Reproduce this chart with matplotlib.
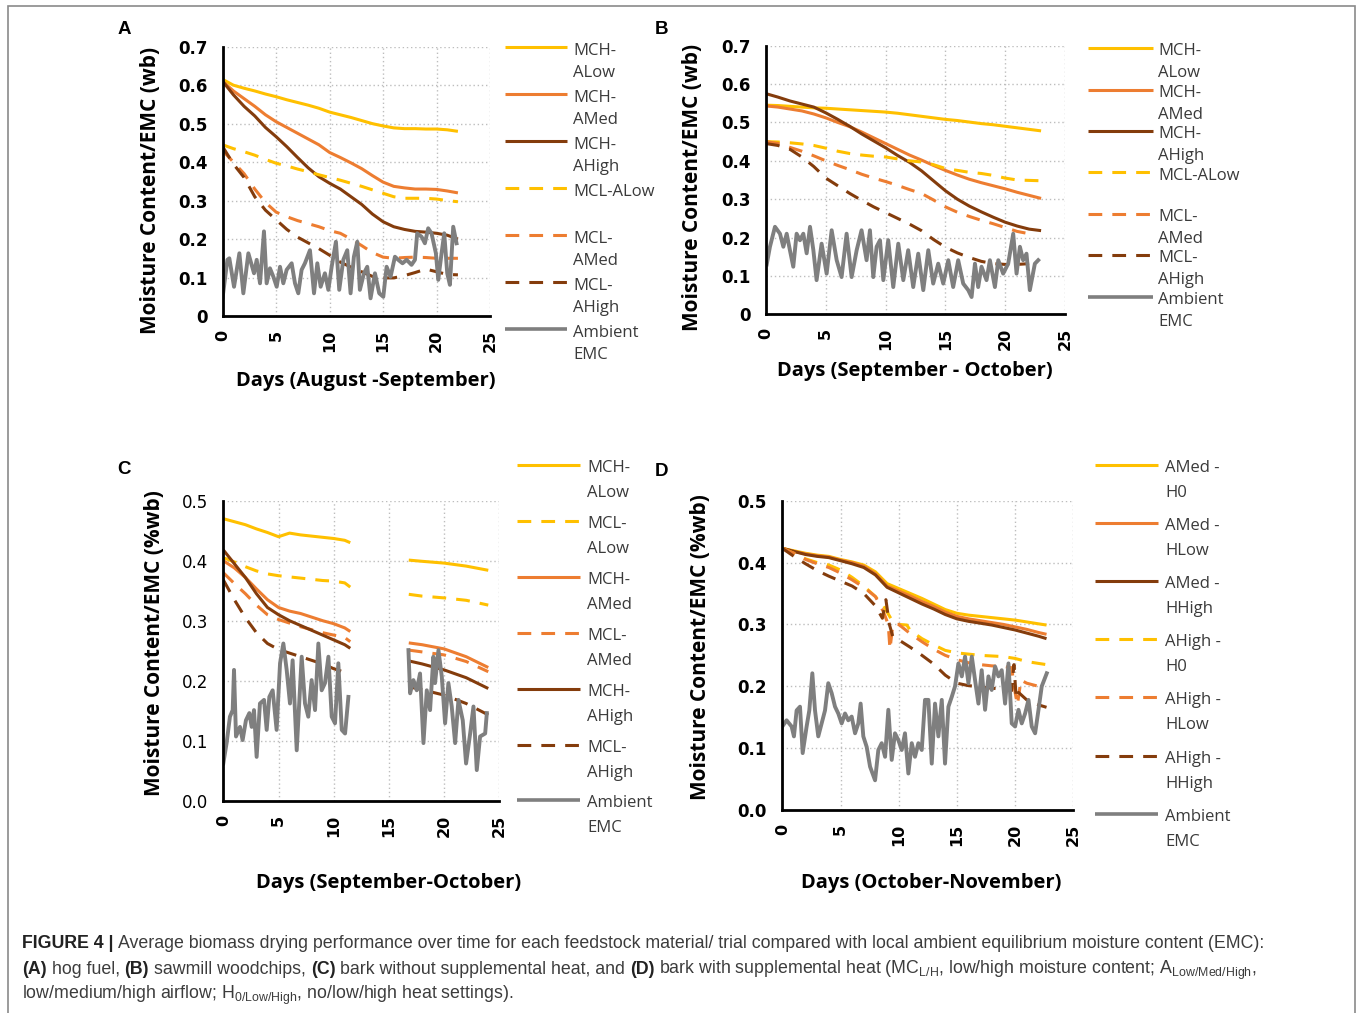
import numpy as np
import matplotlib
matplotlib.use("Agg")
import matplotlib.pyplot as plt
from matplotlib.lines import Line2D
from matplotlib.patches import Rectangle

plt.rcParams['mathtext.fontset'] = 'custom'
plt.rcParams['mathtext.rm'] = 'Liberation Sans'
plt.rcParams['mathtext.it'] = 'Liberation Sans:italic'
plt.rcParams['mathtext.bf'] = 'Liberation Sans:bold'

nan = np.nan

# ------------------------------------------------------------------ data
x_ticks = [0, 5, 10, 15, 20, 25]
y_ticks_AB = [0, 0.1, 0.2, 0.3, 0.4, 0.5, 0.6, 0.7]
y_ticklabels_AB = ["0", "0.1", "0.2", "0.3", "0.4", "0.5", "0.6", "0.7"]
y_ticks_CD = [0, 0.1, 0.2, 0.3, 0.4, 0.5]
y_ticklabels_CD = ["0.0", "0.1", "0.2", "0.3", "0.4", "0.5"]

# Panel A - hog fuel
A_days = list(range(23))
A_mch_alow = [0.615, 0.600, 0.592, 0.585, 0.577, 0.570, 0.562, 0.555, 0.548, 0.540, 0.530, 0.523,
              0.516, 0.508, 0.500, 0.494, 0.489, 0.487, 0.487, 0.486, 0.486, 0.484, 0.480]
A_mch_amed = [0.610, 0.585, 0.565, 0.545, 0.523, 0.505, 0.490, 0.475, 0.460, 0.445, 0.425, 0.412,
              0.398, 0.383, 0.365, 0.348, 0.337, 0.333, 0.330, 0.330, 0.329, 0.325, 0.320]
A_mch_ahigh = [0.610, 0.575, 0.545, 0.520, 0.490, 0.466, 0.440, 0.412, 0.385, 0.362, 0.345, 0.330,
               0.310, 0.290, 0.265, 0.245, 0.232, 0.225, 0.220, 0.218, 0.215, 0.210, 0.200]
A_mcl_alow = [0.445, 0.435, 0.427, 0.418, 0.407, 0.397, 0.390, 0.382, 0.375, 0.367, 0.360, 0.353,
              0.345, 0.337, 0.328, 0.319, 0.310, 0.306, 0.306, 0.306, 0.304, 0.300, 0.297]
A_mcl_amed = [0.430, 0.400, 0.370, 0.330, 0.295, 0.270, 0.258, 0.248, 0.240, 0.232, 0.222, 0.215,
              0.200, 0.183, 0.165, 0.153, 0.150, 0.152, 0.153, 0.152, 0.150, 0.150, 0.150]
A_mcl_ahigh = [0.440, 0.395, 0.360, 0.310, 0.275, 0.250, 0.225, 0.205, 0.190, 0.175, 0.158, 0.140,
               0.127, 0.115, 0.103, 0.099, 0.099, 0.105, 0.113, 0.122, 0.115, 0.108, 0.107]
A_amb_days = [0, 0.44, 0.62, 1.06, 1.56, 1.93, 2.40, 2.93, 3.18, 3.49, 3.86, 4.11, 4.42, 4.74, 5.05,
              5.36, 5.67, 5.98, 6.45, 6.76, 7.07, 7.38, 7.69, 8.16, 8.54, 8.85, 9.16, 9.56, 9.88,
              10.19, 10.59, 10.90, 11.28, 11.65, 11.96, 12.27, 12.59, 12.83, 13.21, 13.52, 13.83,
              14.24, 14.64, 15.02, 15.33, 15.70, 16.11, 16.42, 16.82, 17.20, 17.66, 17.98, 18.19,
              18.60, 18.91, 19.22, 19.53, 19.94, 20.16, 20.47, 20.72, 21.00, 21.25, 21.56, 21.87]
A_amb_vals = [0.050, 0.146, 0.150, 0.076, 0.163, 0.059, 0.163, 0.111, 0.146, 0.085, 0.220, 0.085,
              0.124, 0.102, 0.076, 0.128, 0.085, 0.120, 0.137, 0.085, 0.059, 0.120, 0.137, 0.171,
              0.059, 0.137, 0.076, 0.111, 0.068, 0.128, 0.193, 0.068, 0.146, 0.171, 0.059, 0.154,
              0.193, 0.068, 0.111, 0.128, 0.046, 0.111, 0.059, 0.050, 0.128, 0.102, 0.154, 0.146,
              0.137, 0.146, 0.133, 0.146, 0.215, 0.206, 0.189, 0.228, 0.215, 0.163, 0.094, 0.163,
              0.215, 0.111, 0.081, 0.232, 0.189]

# Panel B - sawmill woodchips
B_days = list(range(24))
B_mch_alow = [0.545, 0.544, 0.542, 0.540, 0.538, 0.537, 0.535, 0.533, 0.531, 0.529, 0.527, 0.524,
              0.520, 0.516, 0.512, 0.508, 0.505, 0.501, 0.497, 0.494, 0.490, 0.486, 0.482, 0.478]
B_mch_amed = [0.543, 0.540, 0.535, 0.530, 0.522, 0.512, 0.500, 0.489, 0.475, 0.460, 0.445, 0.430,
              0.415, 0.402, 0.388, 0.375, 0.363, 0.352, 0.343, 0.335, 0.327, 0.318, 0.310, 0.302]
B_mch_ahigh = [0.575, 0.566, 0.556, 0.548, 0.540, 0.525, 0.508, 0.490, 0.470, 0.452, 0.434, 0.414,
               0.396, 0.374, 0.348, 0.322, 0.300, 0.282, 0.267, 0.253, 0.240, 0.230, 0.222, 0.218]
B_mcl_alow = [0.450, 0.449, 0.447, 0.444, 0.440, 0.433, 0.425, 0.419, 0.415, 0.412, 0.410, 0.405,
              0.400, 0.397, 0.390, 0.380, 0.375, 0.370, 0.367, 0.362, 0.355, 0.350, 0.349, 0.348]
B_days_mcl = list(range(23))
B_mcl_amed = [0.450, 0.445, 0.435, 0.425, 0.413, 0.400, 0.388, 0.377, 0.365, 0.355, 0.346, 0.336,
              0.325, 0.315, 0.298, 0.280, 0.266, 0.255, 0.245, 0.236, 0.226, 0.216, 0.210]
B_mcl_ahigh = [0.445, 0.440, 0.430, 0.410, 0.385, 0.355, 0.335, 0.315, 0.297, 0.280, 0.265, 0.250,
               0.235, 0.218, 0.195, 0.175, 0.160, 0.148, 0.138, 0.132, 0.130, 0.130, 0.132]
B_amb_days = [0.06, 0.33, 0.75, 1.17, 1.45, 1.73, 2.00, 2.28, 2.56, 2.84, 3.12, 3.40, 3.68, 3.96,
              4.23, 4.65, 5.07, 5.49, 5.91, 6.32, 6.74, 7.16, 7.58, 7.99, 8.41, 8.69, 8.97, 9.25,
              9.53, 9.81, 10.22, 10.64, 11.06, 11.48, 11.89, 12.31, 12.73, 13.15, 13.57, 13.98,
              14.40, 14.82, 15.24, 15.65, 16.07, 16.49, 16.91, 17.19, 17.47, 17.74, 18.02, 18.44,
              18.72, 19.14, 19.42, 19.83, 20.25, 20.67, 20.95, 21.23, 21.50, 21.78, 22.06, 22.48,
              22.76]
B_amb_vals = [0.130, 0.176, 0.228, 0.210, 0.176, 0.210, 0.167, 0.124, 0.210, 0.193, 0.210, 0.159,
              0.228, 0.167, 0.089, 0.184, 0.106, 0.219, 0.141, 0.097, 0.210, 0.097, 0.167, 0.219,
              0.141, 0.219, 0.097, 0.176, 0.193, 0.089, 0.193, 0.071, 0.184, 0.089, 0.167, 0.071,
              0.158, 0.063, 0.167, 0.080, 0.132, 0.080, 0.141, 0.071, 0.141, 0.080, 0.063, 0.045,
              0.132, 0.071, 0.124, 0.089, 0.141, 0.071, 0.141, 0.106, 0.132, 0.210, 0.106, 0.176,
              0.141, 0.158, 0.063, 0.132, 0.141]

# Panel C - bark without supplemental heat (gap between trials)
C_days = [0, 1, 2, 3, 4, 5, 6, 7, 8, 9, 10, 11, 11.5, 14, 16.8, 18, 20, 22, 24]
C_mch_alow = [0.470, 0.465, 0.460, 0.453, 0.447, 0.440, 0.446, 0.443, 0.441, 0.439, 0.437, 0.434,
              0.430, nan, 0.401, 0.399, 0.396, 0.391, 0.384]
C_mcl_alow = [0.405, 0.398, 0.390, 0.383, 0.378, 0.375, 0.373, 0.371, 0.369, 0.367, 0.366, 0.363,
              0.356, nan, 0.344, 0.341, 0.338, 0.334, 0.326]
C_mch_amed = [0.400, 0.388, 0.372, 0.353, 0.335, 0.322, 0.316, 0.312, 0.306, 0.300, 0.295, 0.288,
              0.282, nan, 0.263, 0.260, 0.253, 0.240, 0.222]
C_mcl_amed = [0.380, 0.362, 0.345, 0.326, 0.310, 0.302, 0.296, 0.290, 0.285, 0.280, 0.276, 0.272,
              0.265, nan, 0.251, 0.248, 0.243, 0.232, 0.215]
C_mch_ahigh = [0.418, 0.395, 0.372, 0.345, 0.322, 0.310, 0.300, 0.292, 0.284, 0.276, 0.268, 0.260,
               0.254, nan, 0.233, 0.228, 0.218, 0.205, 0.187]
C_mcl_ahigh = [0.368, 0.335, 0.305, 0.280, 0.262, 0.252, 0.246, 0.240, 0.234, 0.228, 0.220, 0.214,
               nan, nan, 0.190, 0.185, 0.176, 0.162, 0.143]
C_amb_days = [0, 0.30, 0.60, 0.85, 0.97, 1.15, 1.51, 1.75, 2.05, 2.36, 2.57, 2.78, 3.02, 3.32, 3.69,
              3.93, 4.17, 4.47, 4.83, 5.14, 5.44, 5.74, 6.04, 6.28, 6.65, 7.10, 7.40, 7.70, 8.00,
              8.31, 8.61, 8.91, 9.21, 9.52, 9.82, 10.12, 10.42, 10.73, 11.03, 11.33, 14.0,
              16.77, 16.92, 17.22, 17.52, 17.82, 18.13, 18.43, 18.73, 19.03, 19.18, 19.49, 19.79,
              20.09, 20.39, 20.69, 21.00, 21.30, 21.69, 21.99, 22.36, 22.66, 22.96, 23.26, 23.72,
              23.87]
C_amb_vals = [0.062, 0.096, 0.140, 0.151, 0.218, 0.107, 0.123, 0.101, 0.134, 0.146, 0.123, 0.151,
              0.073, 0.162, 0.168, 0.118, 0.173, 0.184, 0.118, 0.229, 0.262, 0.218, 0.162, 0.234,
              0.084, 0.240, 0.162, 0.140, 0.201, 0.151, 0.262, 0.184, 0.196, 0.240, 0.140, 0.129,
              0.229, 0.118, 0.112, 0.173, nan,
              0.251, 0.179, 0.201, 0.184, 0.212, 0.096, 0.184, 0.151, 0.240, 0.196, 0.251, 0.207,
              0.129, 0.196, 0.157, 0.096, 0.168, 0.134, 0.062, 0.112, 0.157, 0.051, 0.107, 0.112,
              0.146]

# Panel D - bark with supplemental heat
D_days = [0, 1, 2, 3, 4, 5, 6, 7, 8, 9, 10, 11, 12, 13, 14, 15, 16, 17, 18, 19, 20, 21, 22, 22.7]
D_amed_h0 = [0.423, 0.419, 0.415, 0.412, 0.410, 0.405, 0.401, 0.396, 0.385, 0.366, 0.358, 0.350,
             0.342, 0.333, 0.324, 0.318, 0.315, 0.313, 0.311, 0.309, 0.307, 0.304, 0.301, 0.299]
D_amed_hlow = [0.423, 0.418, 0.414, 0.411, 0.409, 0.404, 0.400, 0.394, 0.382, 0.362, 0.354, 0.346,
               0.337, 0.329, 0.320, 0.313, 0.309, 0.306, 0.303, 0.300, 0.296, 0.292, 0.287, 0.284]
D_amed_hhigh = [0.423, 0.418, 0.413, 0.410, 0.408, 0.403, 0.398, 0.392, 0.380, 0.360, 0.351, 0.342,
                0.333, 0.325, 0.316, 0.309, 0.305, 0.302, 0.299, 0.295, 0.291, 0.286, 0.281, 0.277]
D_ahigh_h0_days = [0, 1, 2, 3, 4, 5, 6, 7, 8, 8.7, 9.5, 10, 10.7, 11, 12, 13, 14, 15, 16, 17, 18,
                   19, 20, 21, 22, 22.7]
D_ahigh_h0 = [0.423, 0.415, 0.406, 0.400, 0.396, 0.388, 0.376, 0.362, 0.345, 0.330, 0.304, 0.300,
              0.299, 0.290, 0.277, 0.267, 0.258, 0.254, 0.252, 0.250, 0.249, 0.248, 0.245, 0.240,
              0.237, 0.235]
D_ahigh_hlow_days = [0, 1, 2, 3, 4, 5, 6, 7, 8, 8.7, 9.1, 9.25, 9.5, 10, 11, 12, 13, 14, 15, 16,
                     17, 18, 19, 19.7, 20, 20.2, 20.5, 21, 22, 22.7]
D_ahigh_hlow = [0.423, 0.415, 0.405, 0.398, 0.392, 0.383, 0.372, 0.360, 0.345, 0.320, 0.300, 0.260,
                0.300, 0.300, 0.285, 0.272, 0.260, 0.250, 0.243, 0.238, 0.235, 0.233, 0.232, 0.230,
                0.190, 0.170, 0.210, 0.205, 0.200, 0.198]
D_ahigh_hhigh_days = [0, 1, 2, 3, 4, 5, 6, 7, 8, 8.6, 8.9, 9.2, 9.5, 10, 11, 12, 13, 14, 15, 16,
                      17, 18, 19, 19.7, 19.9, 20.1, 20.3, 21, 22, 22.7]
D_ahigh_hhigh = [0.423, 0.410, 0.398, 0.387, 0.378, 0.370, 0.362, 0.350, 0.330, 0.310, 0.340, 0.300,
                 0.280, 0.275, 0.263, 0.250, 0.236, 0.218, 0.205, 0.201, 0.199, 0.197, 0.195, 0.193,
                 0.235, 0.180, 0.190, 0.178, 0.170, 0.166]
D_amb_days = [0, 0.37, 0.80, 1.00, 1.23, 1.52, 1.75, 2.09, 2.32, 2.58, 2.81, 3.09, 3.38, 3.67, 3.95,
              4.24, 4.53, 4.81, 5.10, 5.39, 5.67, 5.96, 6.25, 6.53, 6.73, 6.96, 7.25, 7.54, 7.97,
              8.25, 8.54, 8.83, 9.11, 9.40, 9.68, 9.97, 10.26, 10.54, 10.83, 11.12, 11.40, 11.69,
              11.98, 12.26, 12.55, 12.84, 13.12, 13.41, 13.70, 13.98, 14.27, 14.56, 14.84, 15.13,
              15.42, 15.70, 15.99, 16.28, 16.56, 16.85, 17.13, 17.42, 17.71, 17.99, 18.28, 18.57,
              18.85, 19.14, 19.43, 19.71, 20.00, 20.29, 20.57, 20.86, 21.15, 21.43, 21.72, 22.01,
              22.29, 22.72]
D_amb_vals = [0.135, 0.145, 0.135, 0.119, 0.161, 0.167, 0.092, 0.135, 0.161, 0.221, 0.161, 0.119,
              0.140, 0.161, 0.205, 0.189, 0.167, 0.156, 0.140, 0.156, 0.145, 0.151, 0.124, 0.140,
              0.172, 0.119, 0.102, 0.070, 0.048, 0.097, 0.108, 0.086, 0.162, 0.081, 0.124, 0.113,
              0.097, 0.124, 0.059, 0.108, 0.086, 0.108, 0.097, 0.178, 0.178, 0.075, 0.172, 0.119,
              0.178, 0.075, 0.167, 0.183, 0.200, 0.237, 0.216, 0.248, 0.205, 0.248, 0.210, 0.172,
              0.226, 0.162, 0.216, 0.194, 0.232, 0.216, 0.226, 0.172, 0.237, 0.140, 0.135, 0.162,
              0.140, 0.156, 0.178, 0.135, 0.124, 0.162, 0.200, 0.221]

# legend labels (two text lines per entry)
labels_AB = [("MCH-", "ALow"), ("MCH-", "AMed"), ("MCH-", "AHigh"), ("MCL-ALow", ""),
             ("MCL-", "AMed"), ("MCL-", "AHigh"), ("Ambient", "EMC")]
labels_C = [("MCH-", "ALow"), ("MCL-", "ALow"), ("MCH-", "AMed"), ("MCL-", "AMed"),
            ("MCH-", "AHigh"), ("MCL-", "AHigh"), ("Ambient", "EMC")]
labels_D = [("AMed -", "H0"), ("AMed -", "HLow"), ("AMed -", "HHigh"), ("AHigh -", "H0"),
            ("AHigh -", "HLow"), ("AHigh -", "HHigh"), ("Ambient", "EMC")]

# ------------------------------------------------------------------ style
YEL, ORA, BRN, GRY = "#FFC000", "#ED7D31", "#843C0C", "#7F7F7F"
DASH = (0, (4.5, 3.3))
W, H = 1357, 1013

fig = plt.figure(figsize=(W / 100, H / 100), dpi=100)


def add_ax(l, r, t, b):
    return fig.add_axes([l / W, 1 - b / H, (r - l) / W, (b - t) / H])


def style_ax(ax, box, ymax, yticks, yticklabels, ybold, xlabel, ylabel, xl_c, yl_c):
    l, r, t, b = box
    ax.set_xlim(0, 25)
    ax.set_ylim(0, ymax)
    ax.set_xticks(x_ticks)
    ax.set_xticklabels([str(v) for v in x_ticks], rotation=90, fontfamily="DejaVu Sans",
                       fontweight="bold", fontsize=11.5)
    ax.set_yticks(yticks)
    ax.set_yticklabels(yticklabels, fontfamily="DejaVu Sans",
                       fontweight="bold" if ybold else "normal", fontsize=12)
    ax.tick_params(axis="both", length=0, colors="black")
    ax.tick_params(axis="x", pad=10)
    ax.tick_params(axis="y", pad=11)
    for s in ("top", "right"):
        ax.spines[s].set_visible(False)
    for s in ("left", "bottom"):
        ax.spines[s].set_linewidth(2.0)
        ax.spines[s].set_color("black")
    ax.grid(True, color="#bdbdbd", ls=(0, (1, 2)), lw=1.0)
    ax.set_axisbelow(True)
    ax.set_xlabel(xlabel, fontfamily="Open Sans", fontweight="bold", fontsize=14.5, va="center")
    ax.xaxis.set_label_coords((xl_c[0] - l) / (r - l), (b - xl_c[1]) / (b - t))
    ax.set_ylabel(ylabel, fontfamily="Open Sans", fontweight="bold", fontsize=15, va="center")
    ax.yaxis.set_label_coords((yl_c[0] - l) / (r - l), (b - yl_c[1]) / (b - t))


def plot_series(ax, series):
    for d, v, col, dashed in series:
        if col == GRY:
            ax.plot(d, v, color=col, lw=2.8, solid_joinstyle="round")
        else:
            ax.plot(d, v, color=col, lw=2.2, ls=DASH if dashed else "-",
                    dash_capstyle="butt", solid_capstyle="butt")


def legend(series, labels, xl0, xl1, xt, y0, step, off1, off2):
    for i, ((d, v, col, dashed), (t1, t2)) in enumerate(zip(series, labels)):
        y = y0 + i * step
        fig.add_artist(Line2D([xl0 / W, xl1 / W], [1 - y / H, 1 - y / H], color=col,
                              lw=2.6 if col == GRY else 2.2,
                              ls=DASH if dashed else "-", dash_capstyle="butt",
                              solid_capstyle="butt"))
        fig.text(xt / W, 1 - (y + off1) / H, t1, fontfamily="Open Sans", fontsize=12,
                 color="#3a3a3a", va="baseline", ha="left")
        if t2:
            fig.text(xt / W, 1 - (y + off1 + off2) / H, t2, fontfamily="Open Sans", fontsize=12,
                     color="#3a3a3a", va="baseline", ha="left")


# ---------------- panel A
boxA = (222.7, 490, 46.7, 316)
axA = add_ax(*boxA)
serA = [(A_days, A_mch_alow, YEL, False), (A_days, A_mch_amed, ORA, False),
        (A_days, A_mch_ahigh, BRN, False), (A_days, A_mcl_alow, YEL, True),
        (A_days, A_mcl_amed, ORA, True), (A_days, A_mcl_ahigh, BRN, True),
        (A_amb_days, A_amb_vals, GRY, False)]
plot_series(axA, serA)
style_ax(axA, boxA, 0.7, y_ticks_AB, y_ticklabels_AB, True, "Days (August -September)",
         "Moisture Content/EMC (wb)", (366, 381), (151, 190))
legend(serA, labels_AB, 505, 567, 573, 47, 47, 8, 22)

# ---------------- panel B
boxB = (766, 1065, 45.7, 314.3)
axB = add_ax(*boxB)
serB = [(B_days, B_mch_alow, YEL, False), (B_days, B_mch_amed, ORA, False),
        (B_days, B_mch_ahigh, BRN, False), (B_days, B_mcl_alow, YEL, True),
        (B_days_mcl, B_mcl_amed, ORA, True), (B_days_mcl, B_mcl_ahigh, BRN, True),
        (B_amb_days, B_amb_vals, GRY, False)]
plot_series(axB, serB)
style_ax(axB, boxB, 0.7, y_ticks_AB, y_ticklabels_AB, True, "Days (September - October)",
         "Moisture Content/EMC (wb)", (915, 371), (692, 187))
legend(serB, labels_AB, 1088, 1153, 1158, 48.3, 41.4, 7, 22)

# ---------------- panel C
boxC = (223.3, 499.3, 500.7, 800.7)
axC = add_ax(*boxC)
serC = [(C_days, C_mch_alow, YEL, False), (C_days, C_mcl_alow, YEL, True),
        (C_days, C_mch_amed, ORA, False), (C_days, C_mcl_amed, ORA, True),
        (C_days, C_mch_ahigh, BRN, False), (C_days, C_mcl_ahigh, BRN, True),
        (C_amb_days, C_amb_vals, GRY, False)]
plot_series(axC, serC)
style_ax(axC, boxC, 0.5, y_ticks_CD, y_ticklabels_CD, False, "Days (September-October)",
         "Moisture Content/EMC (%wb)", (389, 883), (154, 643))
legend(serC, labels_C, 517, 580, 587, 465, 55.9, 7, 25)

# ---------------- panel D
boxD = (782.3, 1073.3, 500.7, 810)
axD = add_ax(*boxD)
serD = [(D_days, D_amed_h0, YEL, False), (D_days, D_amed_hlow, ORA, False),
        (D_days, D_amed_hhigh, BRN, False), (D_ahigh_h0_days, D_ahigh_h0, YEL, True),
        (D_ahigh_hlow_days, D_ahigh_hlow, ORA, True), (D_ahigh_hhigh_days, D_ahigh_hhigh, BRN, True),
        (D_amb_days, D_amb_vals, GRY, False)]
plot_series(axD, serD)
style_ax(axD, boxD, 0.5, y_ticks_CD, y_ticklabels_CD, True, "Days (October-November)",
         "Moisture Content/EMC (%wb)", (931, 883), (700, 647))
legend(serD, labels_D, 1095, 1158, 1165, 465, 58.1, 7, 25)

# panel letters
for letter, (px, py) in zip("ABCD", [(124, 30), (661, 30), (124, 470), (662, 471)]):
    fig.text(px / W, 1 - py / H, letter, fontfamily="Liberation Sans", fontweight="bold",
             fontsize=13.5, ha="center", va="center", color="black")

# outer frame
fig.add_artist(Rectangle((7.5 / W, -0.02), (1355 - 7.5) / W, 1.02 - 6 / H,
                         transform=fig.transFigure, fill=False, ec="#8a8a8a", lw=1.2))

# caption
renderer = fig.canvas.get_renderer()
CAP_FS = 12.75
CAP_COL = "#3c3c3c"


def seg_width(s, weight):
    t = fig.text(0, 0, s, fontfamily="Liberation Sans", fontsize=CAP_FS, fontweight=weight)
    w = t.get_window_extent(renderer=renderer).width
    t.remove()
    return w


space_w = seg_width("a a", "normal") - seg_width("aa", "normal")


def cap_line(segs, x0, ybase):
    x = x0
    for s, bold in segs:
        if s == " ":
            x += space_w
            continue
        t = fig.text(x / W, 1 - ybase / H, s, fontfamily="Liberation Sans", fontsize=CAP_FS,
                     fontweight="bold" if bold else "normal",
                     color="#222222" if bold else CAP_COL, ha="left", va="baseline")
        x += t.get_window_extent(renderer=renderer).width


cap_line([("FIGURE 4 |", True), (" ", False),
          ("Average biomass drying performance over time for each feedstock material/ trial "
           "compared with local ambient equilibrium moisture content (EMC):", False)], 22, 948)
cap_line([("(A)", True), (" ", False), ("hog fuel,", False), (" ", False), ("(B)", True),
          (" ", False), ("sawmill woodchips,", False), (" ", False), ("(C)", True), (" ", False),
          ("bark without supplemental heat, and", False), (" ", False), ("(D)", True),
          (" ", False),
          (r"bark with supplemental heat (MC$_{\mathrm{L/H}}$, low/high moisture content; "
           r"A$_{\mathrm{Low/Med/High}}$,", False)], 22, 974)
cap_line([(r"low/medium/high airflow; H$_{\mathrm{0/Low/High}}$, no/low/high heat settings).",
           False)], 22, 999)

fig.savefig("out.png", dpi=100)
